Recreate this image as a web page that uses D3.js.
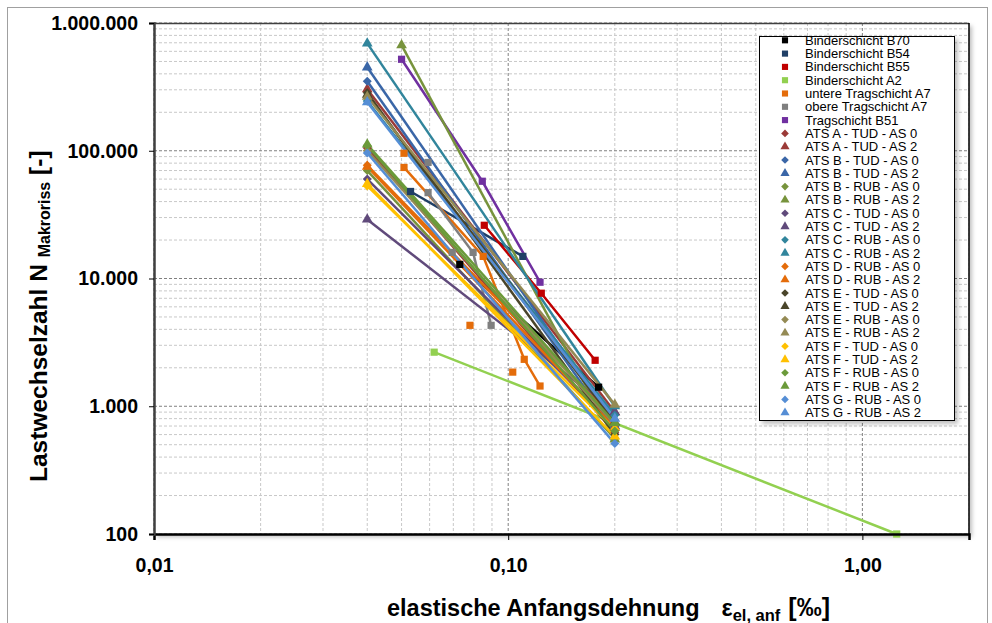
<!DOCTYPE html>
<html>
<head>
<meta charset="utf-8">
<script src="https://cdn.jsdelivr.net/npm/d3@7/dist/d3.min.js"></script>
<style>
  body { margin: 0; background: #fff; }
  text { font-family: "Liberation Sans", Arial, sans-serif; }
</style>
</head>
<body>
<svg id="chart" width="992" height="623"></svg>
<script>
// ---- data ----
var yTicks = [100, 1000, 10000, 100000, 1000000];
var yTickLabels = ["100", "1.000", "10.000", "100.000", "1.000.000"];
var xTicks = [0.01, 0.1, 1];
var xTickLabels = ["0,01", "0,10", "1,00"];

var names = [
  "Binderschicht B70", "Binderschicht B54", "Binderschicht B55", "Binderschicht A2",
  "untere Tragschicht A7", "obere Tragschicht A7", "Tragschicht B51",
  "ATS A - TUD - AS 0", "ATS A - TUD - AS 2", "ATS B - TUD - AS 0", "ATS B - TUD - AS 2",
  "ATS B - RUB - AS 0", "ATS B - RUB - AS 2", "ATS C - TUD - AS 0", "ATS C - TUD - AS 2",
  "ATS C - RUB - AS 0", "ATS C - RUB - AS 2", "ATS D - RUB - AS 0", "ATS D - RUB - AS 2",
  "ATS E - TUD - AS 0", "ATS E - TUD - AS 2", "ATS E - RUB - AS 0", "ATS E - RUB - AS 2",
  "ATS F - TUD - AS 0", "ATS F - TUD - AS 2", "ATS F - RUB - AS 0", "ATS F - RUB - AS 2",
  "ATS G - RUB - AS 0", "ATS G - RUB - AS 2"
];
var colors = [
  "#000000", "#1F3F66", "#C00000", "#92D050", "#E46C0A", "#7F7F7F", "#7030A0",
  "#9B3A37", "#9B3A37", "#3A66A7", "#3A66A7", "#77933C", "#77933C", "#604A7B", "#604A7B",
  "#31859C", "#31859C", "#E46C0A", "#E46C0A", "#4A452A", "#4A452A", "#948A54", "#948A54",
  "#FFC000", "#FFC000", "#6B9A3A", "#6B9A3A", "#558ED5", "#558ED5"
];
var shapes = [
  "square", "square", "square", "square", "square", "square", "square",
  "diamond", "triangle", "diamond", "triangle", "diamond", "triangle", "diamond", "triangle",
  "diamond", "triangle", "diamond", "triangle", "diamond", "triangle", "diamond", "triangle",
  "diamond", "triangle", "diamond", "triangle", "diamond", "triangle"
];
// strain values per series (null = break in line)
var strain = [
  [0.073, 0.18],
  [0.053, 0.11],
  [0.0856, 0.124, 0.176],
  [0.0618, 1.25],
  [0.0508, null, 0.0508, 0.085, 0.111, 0.123, null, 0.078, null, 0.103],
  [0.0594, null, 0.0594, 0.0796, 0.0895, null, 0.0695],
  [0.05, 0.0845, 0.123],
  [0.04, 0.2], [0.04, 0.2], [0.04, 0.2], [0.04, 0.2],
  [0.04, 0.2], [0.05, 0.2], [0.04, 0.2], [0.04, 0.2],
  [0.04, 0.2], [0.04, 0.2], [0.04, 0.2], [0.04, 0.2],
  [0.04, 0.2], [0.04, 0.2], [0.04, 0.2], [0.04, 0.2],
  [0.04, 0.2], [0.04, 0.2], [0.04, 0.2], [0.04, 0.2],
  [0.04, 0.2], [0.04, 0.2]
];
// load cycles to macro crack per series
var cycles = [
  [12900, 1410],
  [48000, 14900],
  [26100, 7670, 2290],
  [2650, 100],
  [95600, null, 74000, 14900, 2330, 1440, null, 4300, null, 1850],
  [81000, null, 47000, 16000, 4300, null, 16000],
  [520000, 57700, 9350],
  [105000, 620], [303000, 900], [350000, 650], [450000, 700],
  [70000, 560], [670000, 550], [60000, 700], [29000, 900],
  [245000, 850], [693000, 1000], [77000, 780], [75000, 680],
  [285000, 600], [275000, 750], [100000, 720], [265000, 1030],
  [53000, 660], [55000, 580], [110000, 640], [112000, 740],
  [96000, 510], [240000, 800]
];

// ---- layout ----
var svg = d3.select("#chart"),
    margin = {top: 23, right: 23, bottom: 89, left: 154},
    width = +svg.attr("width") - margin.left - margin.right,
    height = +svg.attr("height") - margin.top - margin.bottom;

var defs = svg.append("defs");
var shadow = defs.append("filter").attr("id", "shadow")
    .attr("x", "-5%").attr("y", "-5%").attr("width", "115%").attr("height", "115%");
shadow.append("feDropShadow").attr("dx", 3).attr("dy", 3)
    .attr("stdDeviation", 2).attr("flood-color", "#000").attr("flood-opacity", 0.25);

// outer chart border
svg.append("rect")
    .attr("x", 7.5).attr("y", 7.5).attr("width", 980).attr("height", 640)
    .attr("fill", "#fff").attr("stroke", "#a0a0a0");

var x = d3.scaleLog().domain([0.01, 2]).range([0, width]);
var y = d3.scaleLog().domain([100, 1000000]).range([height, 0]);

var g = svg.append("g").attr("transform", "translate(" + margin.left + "," + margin.top + ")");

g.append("rect")
    .attr("width", width).attr("height", height)
    .attr("fill", "#fff").attr("filter", "url(#shadow)");

// gridlines
var xMinor = [], yMinor = [];
[0.01, 0.1, 1].forEach(function(d) {
  for (var k = 2; k <= 9; k++) if (d * k <= 2) xMinor.push(d * k);
});
[100, 1000, 10000, 100000].forEach(function(d) {
  for (var k = 2; k <= 9; k++) yMinor.push(d * k);
});

g.append("g").selectAll("line").data(xMinor).enter().append("line")
    .attr("x1", x).attr("x2", x).attr("y1", 0).attr("y2", height)
    .attr("stroke", "#c8c8c8").attr("stroke-dasharray", "3,2");
g.append("g").selectAll("line").data(yMinor).enter().append("line")
    .attr("y1", y).attr("y2", y).attr("x1", 0).attr("x2", width)
    .attr("stroke", "#c8c8c8").attr("stroke-dasharray", "3,2");
g.append("g").selectAll("line").data(xTicks).enter().append("line")
    .attr("x1", x).attr("x2", x).attr("y1", 0).attr("y2", height)
    .attr("stroke", "#808080").attr("stroke-dasharray", "3,2");
g.append("g").selectAll("line").data(yTicks).enter().append("line")
    .attr("y1", y).attr("y2", y).attr("x1", 0).attr("x2", width)
    .attr("stroke", "#808080").attr("stroke-dasharray", "3,2");

// plot frame
g.append("line").attr("x1", 0).attr("x2", width).attr("y1", 0.5).attr("y2", 0.5)
    .attr("stroke", "#404040").attr("stroke-width", 1.5);
g.append("line").attr("x1", width).attr("x2", width).attr("y1", 0).attr("y2", height)
    .attr("stroke", "#000").attr("stroke-width", 1.5);

// series lines
var line = d3.line()
    .defined(function(d) { return d[0] != null && d[1] != null; })
    .x(function(d) { return x(d[0]); })
    .y(function(d) { return y(d[1]); });

var series = names.map(function(n, i) {
  return {
    name: n, color: colors[i], shape: shapes[i],
    points: strain[i].map(function(v, j) { return [v, cycles[i][j]]; })
  };
});

var plot = g.append("g");
series.forEach(function(s) {
  plot.append("path")
      .datum(s.points)
      .attr("fill", "none")
      .attr("stroke", s.color)
      .attr("stroke-width", 2.5)
      .attr("d", line);
});

function symbolPath(shape) {
  if (shape === "square") return d3.symbol().type(d3.symbolSquare).size(52)();
  if (shape === "triangle") return d3.symbol().type(d3.symbolTriangle).size(50)();
  return "M0,-4.5L4.5,0L0,4.5L-4.5,0Z";
}

series.forEach(function(s) {
  plot.append("g").selectAll("path")
      .data(s.points.filter(function(d) { return d[0] != null && d[1] != null; }))
      .enter().append("path")
      .attr("d", symbolPath(s.shape))
      .attr("fill", s.color)
      .attr("transform", function(d) { return "translate(" + x(d[0]) + "," + y(d[1]) + ")"; });
});

// axes
var xAxis = g.append("g")
    .attr("transform", "translate(0," + height + ")")
    .call(d3.axisBottom(x).tickValues(xTicks).tickFormat(function(d, i) { return xTickLabels[i]; })
      .tickSize(6).tickPadding(18));
xAxis.select(".domain").attr("stroke", "#000").attr("stroke-width", 2.5);
xAxis.selectAll(".tick line").attr("stroke", "#000");
xAxis.selectAll("text")
    .style("font", "bold 19.5px 'Liberation Sans', Arial, sans-serif").attr("fill", "#000");

var yAxis = g.append("g")
    .call(d3.axisLeft(y).tickValues(yTicks).tickFormat(function(d, i) { return yTickLabels[i]; })
      .tickSize(5).tickPadding(11));
yAxis.select(".domain").attr("stroke", "#404040").attr("stroke-width", 2.5);
yAxis.selectAll(".tick line").attr("stroke", "#000");
yAxis.selectAll("text")
    .style("font", "bold 19.5px 'Liberation Sans', Arial, sans-serif").attr("fill", "#000");

// axis titles
var xt = svg.append("text")
    .attr("x", 387).attr("y", 616)
    .style("font-weight", "bold").style("font-size", "23.5px").attr("fill", "#000");
xt.append("tspan").text("elastische Anfangsdehnung");
xt.append("tspan").attr("dx", 22).text("ε");
xt.append("tspan").attr("dy", 5).style("font-size", "16.5px").text("el, anf");
xt.append("tspan").attr("dy", -5).attr("dx", 8).style("font-size", "25px").text("[‰]");

var yt = svg.append("text")
    .attr("transform", "translate(47,482) rotate(-90)")
    .style("font-weight", "bold").style("font-size", "24.5px").attr("fill", "#000");
yt.append("tspan").text("Lastwechselzahl N ");
yt.append("tspan").attr("dy", 3).style("font-size", "16px").text("Makroriss");
yt.append("tspan").attr("dy", -3).text(" [-]");

// legend
var legend = svg.append("g").attr("transform", "translate(759,36)");
legend.append("rect")
    .attr("x", 0.5).attr("y", 0.5).attr("width", 195).attr("height", 384)
    .attr("fill", "#fff").attr("stroke", "#000").attr("filter", "url(#shadow)");
var items = legend.selectAll(".item").data(series).enter().append("g")
    .attr("transform", function(d, i) { return "translate(0," + (4.3 + i * 13.3) + ")"; });
items.append("path")
    .attr("d", function(d) { return symbolPath(d.shape); })
    .attr("transform", "translate(26,0) scale(0.85)")
    .attr("fill", function(d) { return d.color; });
items.append("text")
    .attr("x", 46).attr("dy", "0.35em")
    .style("font-size", "13px").attr("fill", "#000")
    .text(function(d) { return d.name; });
</script>
</body>
</html>
